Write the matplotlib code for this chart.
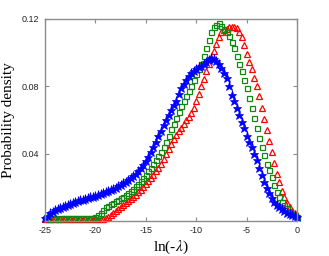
import numpy as np
import matplotlib
matplotlib.use("Agg")
import matplotlib.pyplot as plt

plt.rcParams["axes.unicode_minus"] = False
plt.rcParams["mathtext.fontset"] = "stix"

######## data #############################

# ln(-lambda) grid, one point every 0.25
ln_lam = np.arange(-25, 0.001, 0.25)

# blue stars
blue = [
    0.0018, 0.0032, 0.0045, 0.0054,   # -25
    0.0062, 0.0069, 0.0075, 0.0082,   # -24
    0.0088, 0.0094, 0.0100, 0.0105,   # -23
    0.0110, 0.0116, 0.0122, 0.0127,   # -22
    0.0132, 0.0136, 0.0140, 0.0144,   # -21
    0.0148, 0.0153, 0.0158, 0.0164,   # -20
    0.0170, 0.0176, 0.0183, 0.0190,   # -19
    0.0198, 0.0206, 0.0214, 0.0223,   # -18
    0.0232, 0.0243, 0.0254, 0.0267,   # -17
    0.0280, 0.0296, 0.0312, 0.0332,   # -16
    0.0355, 0.0382, 0.0410, 0.0440,   # -15
    0.0470, 0.0502, 0.0535, 0.0568,   # -14
    0.0600, 0.0630, 0.0660, 0.0688,   # -13
    0.0715, 0.0752, 0.0788, 0.0815,   # -12
    0.0840, 0.0862, 0.0880, 0.0892,   # -11
    0.0902, 0.0912, 0.0922, 0.0935,   # -10
    0.0945, 0.0955, 0.0965, 0.0960,   # -9
    0.0950, 0.0932, 0.0910, 0.0880,   # -8
    0.0850, 0.0800, 0.0750, 0.0710,   # -7
    0.0670, 0.0630, 0.0590, 0.0550,   # -6
    0.0505, 0.0470, 0.0440, 0.0400,   # -5
    0.0360, 0.0315, 0.0272, 0.0232,   # -4
    0.0195, 0.0165, 0.0137, 0.0115,   # -3
    0.0096, 0.0082, 0.0069, 0.0058,   # -2
    0.0049, 0.0040, 0.0033, 0.0027,   # -1
    0.0022,                           # 0
]

# green open squares
green = [
    0.0015, 0.0015, 0.0014, 0.0015,
    0.0015, 0.0014, 0.0015, 0.0015,
    0.0015, 0.0016, 0.0015, 0.0016,
    0.0016, 0.0016, 0.0017, 0.0017,
    0.0017, 0.0018, 0.0018, 0.0020,
    0.0025, 0.0035, 0.0050, 0.0066,
    0.0080, 0.0090, 0.0100, 0.0109,
    0.0118, 0.0126, 0.0135, 0.0145,
    0.0155, 0.0167, 0.0180, 0.0192,
    0.0205, 0.0222, 0.0240, 0.0257,
    0.0275, 0.0295, 0.0315, 0.0337,
    0.0360, 0.0385, 0.0410, 0.0440,
    0.0470, 0.0505, 0.0545, 0.0578,
    0.0610, 0.0645, 0.0680, 0.0710,
    0.0740, 0.0770, 0.0800, 0.0835,
    0.0870, 0.0900, 0.0930, 0.0980,
    0.1030, 0.1075, 0.1120, 0.1150,
    0.1165, 0.1175, 0.1160, 0.1140,
    0.1120, 0.1100, 0.1065, 0.1025,
    0.0980, 0.0935, 0.0890, 0.0840,
    0.0790, 0.0730, 0.0670, 0.0610,
    0.0550, 0.0495, 0.0440, 0.0390,
    0.0340, 0.0300, 0.0260, 0.0215,
    0.0172, 0.0143, 0.0115, 0.0095,
    0.0075, 0.0058, 0.0043, 0.0033,
    0.0025,
]

# red open triangles
red = [
    0.0012, 0.0012, 0.0011, 0.0012,
    0.0012, 0.0011, 0.0012, 0.0012,
    0.0012, 0.0012, 0.0011, 0.0012,
    0.0012, 0.0012, 0.0012, 0.0012,
    0.0012, 0.0012, 0.0012, 0.0012,
    0.0012, 0.0013, 0.0013, 0.0014,
    0.0018, 0.0025, 0.0036, 0.0048,
    0.0060, 0.0072, 0.0085, 0.0097,
    0.0108, 0.0119, 0.0130, 0.0142,
    0.0155, 0.0170, 0.0185, 0.0201,
    0.0218, 0.0236, 0.0255, 0.0275,
    0.0295, 0.0317, 0.0340, 0.0367,
    0.0395, 0.0428, 0.0460, 0.0487,
    0.0512, 0.0535, 0.0555, 0.0578,
    0.0600, 0.0620, 0.0640, 0.0672,
    0.0710, 0.0755, 0.0800, 0.0845,
    0.0890, 0.0930, 0.0970, 0.1010,
    0.1050, 0.1090, 0.1120, 0.1135,
    0.1140, 0.1150, 0.1155, 0.1155,
    0.1145, 0.1125, 0.1095, 0.1045,
    0.0990, 0.0945, 0.0900, 0.0850,
    0.0800, 0.0740, 0.0670, 0.0605,
    0.0540, 0.0475, 0.0410, 0.0345,
    0.0280, 0.0230, 0.0180, 0.0140,
    0.0105, 0.0080, 0.0058, 0.0045,
    0.0035,
]

x_ticks = [-25, -20, -15, -10, -5, 0]
y_ticks = [0.04, 0.08, 0.12]
y_tick_labels = ["0.04", "0.08", "0.12"]

######## plot #########

fig = plt.figure(figsize=(3.29, 2.56), dpi=100)
ax = fig.add_axes([0.137, 0.137, 0.766, 0.789])

ax.plot(ln_lam, red, linestyle="none", marker="^", markersize=4.2,
        markerfacecolor="none", markeredgecolor="#ff0000", markeredgewidth=0.9, clip_on=False)
ax.plot(ln_lam, green, linestyle="none", marker="s", markersize=3.6,
        markerfacecolor="none", markeredgecolor="#118811", markeredgewidth=0.9, clip_on=False)
ax.plot(ln_lam, blue, linestyle="none", marker="*", markersize=6.5,
        color="#0000ff", markeredgewidth=0.5, clip_on=False)

ax.set_xlim(-25, 0)
ax.set_ylim(0, 0.12)
ax.set_xticks(x_ticks)
ax.set_yticks(y_ticks)
ax.set_yticklabels(y_tick_labels)

for s in ax.spines.values():
    s.set_color("#8c8c8c")
    s.set_linewidth(1.0)

ax.tick_params(direction="in", top=True, right=True, length=3, width=0.8,
               color="#8c8c8c", labelsize=6.5, pad=4)
for lab in ax.get_xticklabels() + ax.get_yticklabels():
    lab.set_family("Liberation Sans")
    lab.set_color("#222222")

ax.set_xlabel(r"ln(-$\lambda$)", family="Liberation Serif", fontsize=11, labelpad=2)
ax.set_ylabel("Probability density", family="Liberation Serif", fontsize=11, labelpad=5)

fig.savefig("out.png", dpi=100)
